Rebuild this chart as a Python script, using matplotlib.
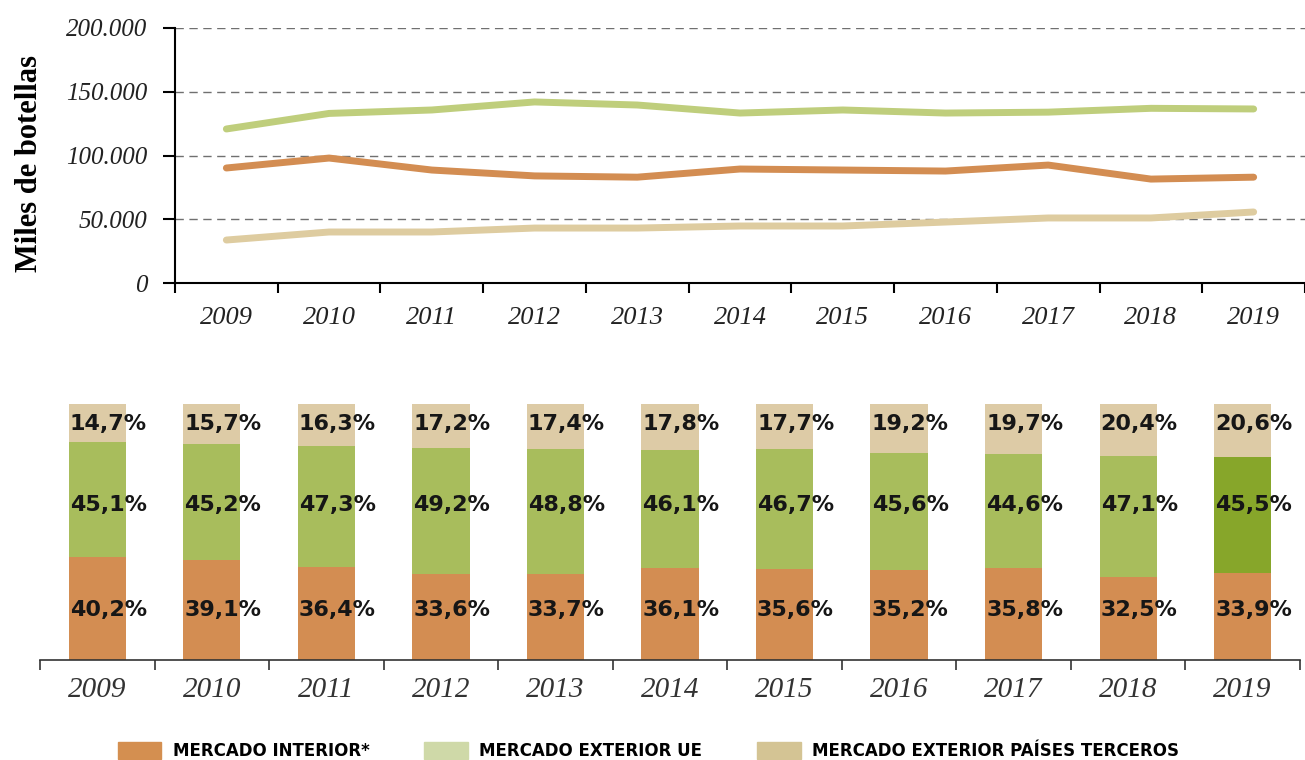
import matplotlib
matplotlib.use("Agg")
import matplotlib.pyplot as plt
from matplotlib import font_manager
from matplotlib.patches import Patch
from matplotlib.ticker import FuncFormatter
import numpy as np

years = ["2009", "2010", "2011", "2012", "2013", "2014", "2015", "2016", "2017", "2018", "2019"]

# miles de botellas
interior = [90200, 98000, 88600, 84000, 83000, 89400, 88600, 87800, 92500, 81500, 83000]
exterior_ue = [120800, 133000, 135700, 142000, 139600, 133300, 135700, 133300, 134000, 137000, 136500]
terceros = [33700, 40000, 40000, 43100, 43100, 44700, 44700, 47800, 51000, 51000, 55700]

# porcentajes
pct_interior = [40.2, 39.1, 36.4, 33.6, 33.7, 36.1, 35.6, 35.2, 35.8, 32.5, 33.9]
pct_ue = [45.1, 45.2, 47.3, 49.2, 48.8, 46.1, 46.7, 45.6, 44.6, 47.1, 45.5]
pct_terceros = [14.7, 15.7, 16.3, 17.2, 17.4, 17.8, 17.7, 19.2, 19.7, 20.4, 20.6]

legend_labels = ["MERCADO INTERIOR*", "MERCADO EXTERIOR UE", "MERCADO EXTERIOR PAÍSES TERCEROS"]

c_orange = "#D38D52"
c_green_line = "#BFCE7C"
c_tan_line = "#DECCA0"
c_green_bar = "#A8BD5C"
c_green_last = "#87A62A"
c_tan_bar = "#DDCBA6"

serif = ["Liberation Serif", "DejaVu Serif"]

# narrow font for the legend if one is installed
names = {f.name for f in font_manager.fontManager.ttflist}
if "Liberation Sans Narrow" in names:
    leg_prop = {"family": ["Liberation Sans Narrow", "DejaVu Sans"], "weight": "bold", "size": 16}
    colsp, leg_x = 2.6, 0.507
else:
    leg_prop = {"family": "DejaVu Sans", "weight": "bold", "size": 12}
    colsp, leg_x = 3.3, 0.497

fig = plt.figure(figsize=(13.05, 7.6), dpi=100)

# ---- line chart ----
ax1 = fig.add_axes([175 / 1305, 1 - 283 / 760, 1 - 175 / 1305, 255 / 760])
x = np.arange(len(years))
kw = dict(lw=5, solid_capstyle="round", solid_joinstyle="round")
ax1.plot(x, exterior_ue, color=c_green_line, **kw)
ax1.plot(x, interior, color=c_orange, **kw)
ax1.plot(x, terceros, color=c_tan_line, **kw)
ax1.set_ylim(0, 200000)
ax1.set_xlim(-0.5, (1305 - 175) / 103.6 - 0.5)
ax1.set_yticks([0, 50000, 100000, 150000, 200000])
ax1.yaxis.set_major_formatter(FuncFormatter(lambda v, p: "0" if v == 0 else f"{int(v):,}".replace(",", ".")))
for v in [50000, 100000, 150000, 200000]:
    ax1.axhline(v, color="#707070", lw=1, ls=(0, (6, 4)), zorder=0)
ax1.set_xticks(x)
ax1.set_xticklabels(years)
ax1.set_xticks(np.arange(-0.5, 11, 1), minor=True)
ax1.tick_params(axis="x", which="major", length=0, pad=17)
ax1.tick_params(axis="x", which="minor", length=7, width=1.5, direction="out")
ax1.tick_params(axis="y", length=9, width=1.5, direction="out", pad=11)
for lab in ax1.get_yticklabels():
    lab.set_fontsize(18)
for lab in ax1.get_xticklabels():
    lab.set_fontsize(19)
for lab in ax1.get_xticklabels() + ax1.get_yticklabels():
    lab.set_family(serif)
    lab.set_style("italic")
    lab.set_color("#222222")
for s in ["top", "right"]:
    ax1.spines[s].set_visible(False)
ax1.spines["left"].set_linewidth(1.5)
ax1.spines["bottom"].set_linewidth(1.5)
ax1.set_ylabel("Miles de botellas", family=serif, fontweight="bold", fontsize=22)
ax1.yaxis.set_label_coords(-0.116, 0.47)

# ---- stacked bars ----
ax2 = fig.add_axes([40 / 1305, 1 - 660 / 760, 1260 / 1305, 256 / 760])
greens = [c_green_bar] * (len(years) - 1) + [c_green_last]
tot = np.array(pct_interior) + np.array(pct_ue) + np.array(pct_terceros)
b1 = np.array(pct_interior) / tot * 100
b2 = np.array(pct_ue) / tot * 100
b3 = np.array(pct_terceros) / tot * 100
bw = 0.5
ax2.bar(x, b1, width=bw, color=c_orange)
ax2.bar(x, b2, width=bw, bottom=b1, color=greens)
ax2.bar(x, b3, width=bw, bottom=b1 + b2, color=c_tan_bar)
# labels start at the left edge of each bar, on fixed rows
for i in range(len(years)):
    for val, y in [(pct_interior[i], 19.5), (pct_ue[i], 60.5), (pct_terceros[i], 92.2)]:
        ax2.text(x[i] - bw / 2 + 0.01, y, f"{val:.1f}%".replace(".", ","), ha="left", va="center",
                 fontsize=16, fontweight="heavy", color="#161616", family="DejaVu Sans")
ax2.set_ylim(0, 100)
ax2.set_xlim(-0.5, 10.5)
ax2.set_yticks([])
ax2.set_xticks(x)
ax2.set_xticklabels(years)
ax2.set_xticks(np.arange(-0.5, 11, 1), minor=True)
ax2.tick_params(axis="x", which="major", length=0, pad=12)
ax2.tick_params(axis="x", which="minor", length=7, width=1.2, direction="out", color="#333333")
for lab in ax2.get_xticklabels():
    lab.set_family(serif)
    lab.set_style("italic")
    lab.set_fontsize(21)
    lab.set_color("#333333")
for s in ["top", "right", "left"]:
    ax2.spines[s].set_visible(False)
ax2.spines["bottom"].set_color("#333333")
ax2.spines["bottom"].set_linewidth(1.2)

# ---- legend ----
handles = [Patch(color="#D48F50"), Patch(color="#CFD9A8"), Patch(color="#D4C494")]
fig.legend(handles, legend_labels, loc="center", bbox_to_anchor=(leg_x, 0.012), ncol=3,
           frameon=False, handlelength=2.6, handleheight=1.2, columnspacing=colsp, handletextpad=0.7,
           prop=leg_prop)

fig.savefig("out.png", dpi=100)
